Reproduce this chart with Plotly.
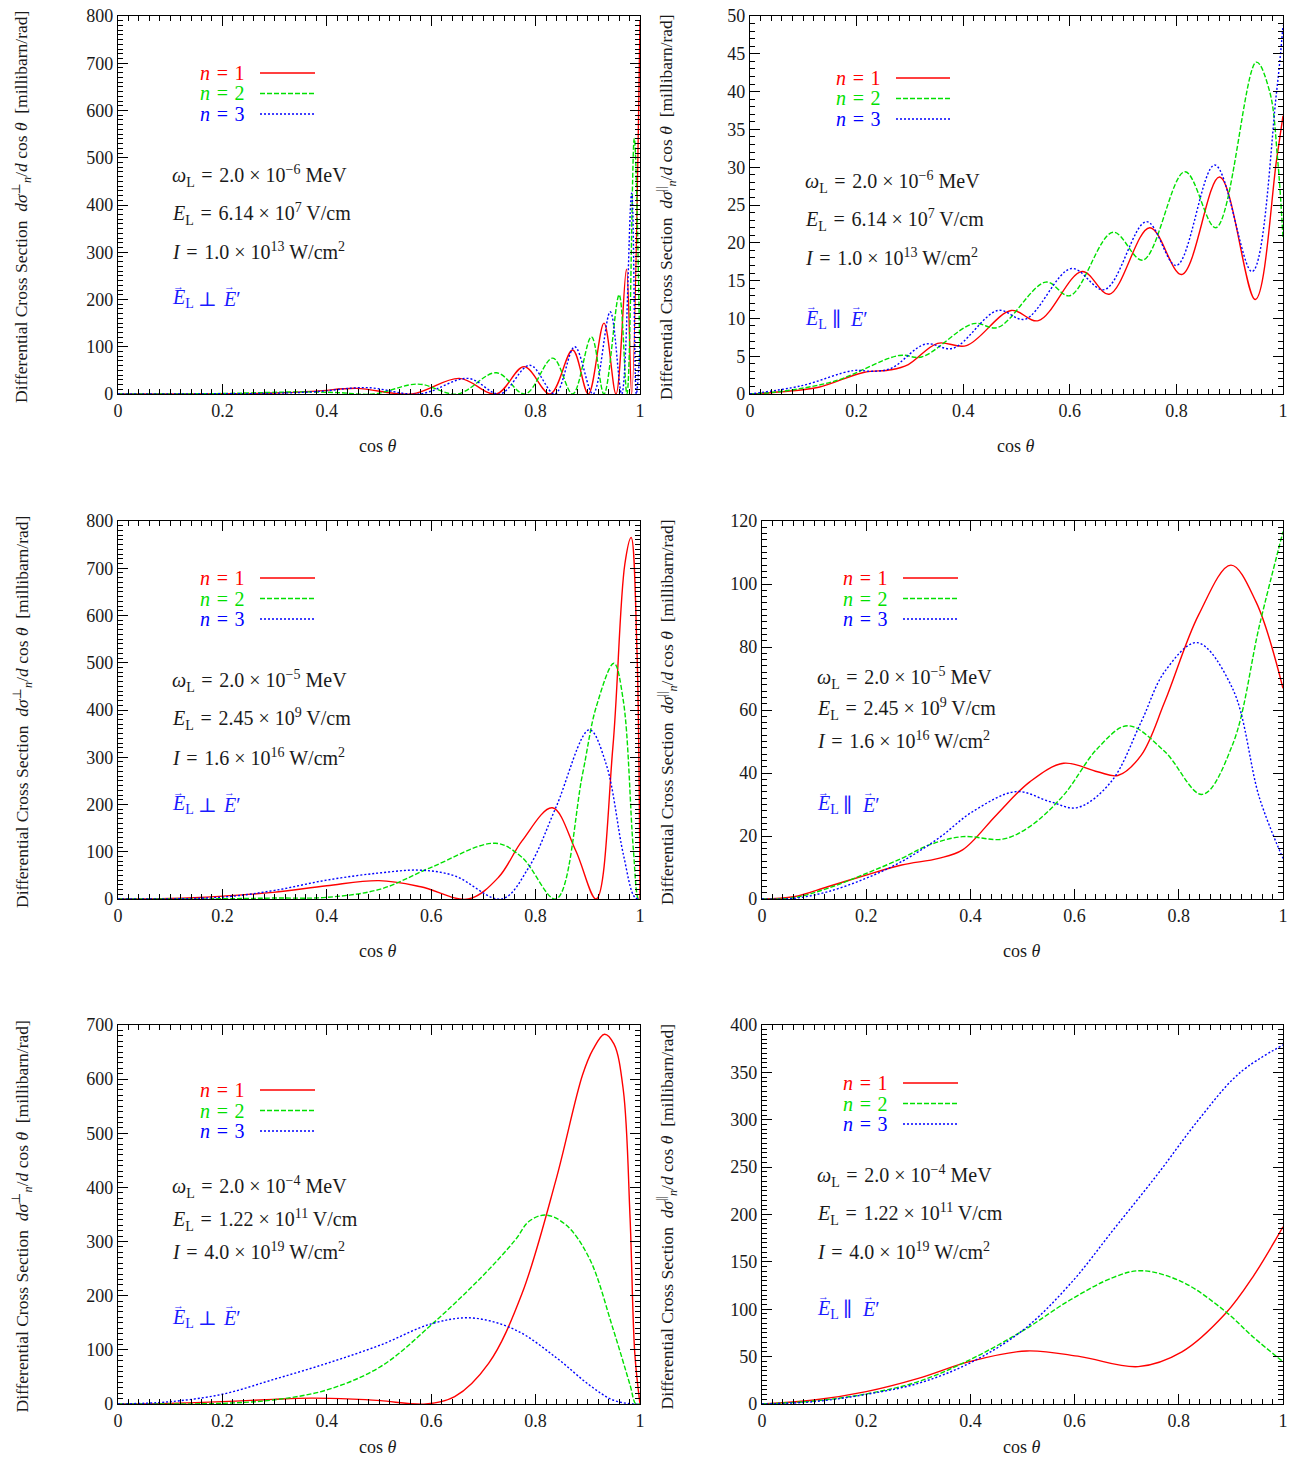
import plotly.graph_objects as go

# window is 1297x1465; the page body has an 8px margin, so the figure is 16px smaller
WIN_W, WIN_H = 1297, 1465
OFF = 8
FW, FH = WIN_W - 2 * OFF, WIN_H - 2 * OFF

# ---------------- data ----------------
# Panel A: E_L perp E', omega_L = 2.0e-6 MeV
a_x1 = [0, 0.1, 0.2, 0.3, 0.38, 0.457, 0.563, 0.654, 0.725, 0.778, 0.828, 0.871, 0.901, 0.931, 0.954, 0.974, 0.984, 1.0]
a_y1 = [0, 0.1, 0.5, 2, 6, 12, 0, 33, 0, 58, 0, 93, 0, 150, 0, 264, 0, 790]
a_x2 = [0, 0.1, 0.2, 0.28, 0.35, 0.42, 0.49, 0.575, 0.65, 0.725, 0.78, 0.833, 0.871, 0.907, 0.931, 0.960, 0.975, 0.989, 1.0]
a_y2 = [0, 0.2, 1, 3, 4.5, 3, 0, 21, 0, 45, 0, 76, 0, 121, 0, 210, 0, 541, 60]
a_x3 = [0, 0.1, 0.2, 0.3, 0.38, 0.476, 0.578, 0.671, 0.732, 0.789, 0.837, 0.875, 0.91, 0.943, 0.965, 0.984, 0.993, 1.0]
a_y3 = [0, 0.1, 0.5, 1.5, 5, 13.5, 0, 33, 0, 61, 0, 100, 0, 174, 0, 425, 0, 100]

# Panel B: E_L parallel E', omega_L = 2.0e-6 MeV
b_x1 = [0, 0.06, 0.129, 0.213, 0.265, 0.297, 0.352, 0.406, 0.49, 0.541, 0.623, 0.674, 0.75, 0.81, 0.881, 0.948, 0.988, 1.0]
b_y1 = [0, 0.3, 0.9, 2.85, 3.2, 3.9, 6.7, 6.4, 11.05, 9.7, 16.2, 13.2, 22.0, 15.8, 28.7, 12.5, 31, 36.8]
b_x2 = [0, 0.065, 0.161, 0.28, 0.322, 0.419, 0.465, 0.555, 0.6, 0.681, 0.737, 0.816, 0.874, 0.95, 0.975, 0.99, 1.0]
b_y2 = [0, 0.4, 1.75, 5.1, 4.9, 9.3, 8.8, 14.8, 13.0, 21.4, 17.7, 29.4, 22.0, 43.9, 40, 31, 20.6]
b_x3 = [0, 0.097, 0.194, 0.23, 0.265, 0.329, 0.381, 0.465, 0.516, 0.603, 0.665, 0.744, 0.8, 0.872, 0.942, 0.988, 1.0]
b_y3 = [0, 1.1, 3.1, 3.0, 3.4, 6.6, 6.05, 11.05, 9.9, 16.6, 13.8, 22.8, 17.0, 30.3, 16.2, 40, 48.7]

# Panel C: E_L perp E', omega_L = 2.0e-5 MeV
c_x1 = [0, 0.1, 0.194, 0.297, 0.4, 0.5, 0.58, 0.671, 0.729, 0.774, 0.832, 0.877, 0.916, 0.948, 0.971, 0.983, 0.994, 1.0]
c_y1 = [0, 1, 5.6, 14, 28, 38.8, 26, 0, 46, 123, 193, 102, 0, 321, 709, 765, 533, 0]
c_x2 = [0, 0.2, 0.297, 0.4, 0.503, 0.6, 0.723, 0.774, 0.839, 0.89, 0.916, 0.95, 0.968, 0.987, 0.997, 1.0]
c_y2 = [0, 0.5, 2, 3.5, 21, 67, 118, 88, 0, 265, 406, 499, 420, 109, 0, 0]
c_x3 = [0, 0.194, 0.297, 0.4, 0.5, 0.58, 0.645, 0.735, 0.787, 0.839, 0.903, 0.935, 0.968, 0.99, 1.0]
c_y3 = [0, 3.5, 17.6, 40, 55, 61, 49, 0, 67, 194, 358, 286, 95, 3.5, 0]

# Panel D: E_L parallel E', omega_L = 2.0e-5 MeV
d_x1 = [0, 0.061, 0.126, 0.2, 0.268, 0.339, 0.385, 0.45, 0.514, 0.579, 0.644, 0.683, 0.728, 0.773, 0.838, 0.9, 0.948, 1.0]
d_y1 = [0, 0.7, 3.9, 7.6, 10.8, 12.9, 15.6, 26.7, 37.2, 43.1, 40.4, 39.2, 45.7, 62.6, 90.2, 106, 94.4, 66.9]
d_x2 = [0, 0.061, 0.126, 0.2, 0.268, 0.32, 0.385, 0.462, 0.514, 0.579, 0.644, 0.702, 0.773, 0.845, 0.903, 0.955, 1.0]
d_y2 = [0, 0.4, 3.4, 8.1, 12.9, 17.1, 19.8, 19.0, 23, 33, 47.8, 55, 46.8, 33.2, 48.9, 87, 116.6]
d_x3 = [0, 0.061, 0.126, 0.2, 0.268, 0.339, 0.404, 0.488, 0.553, 0.605, 0.67, 0.728, 0.773, 0.835, 0.903, 0.955, 1.0]
d_y3 = [0, 0.2, 2.3, 6.6, 11.9, 19.3, 27.7, 34.1, 30.9, 29.0, 37.2, 56.3, 72.2, 81.4, 66.9, 32, 12.9]

# Panel E: E_L perp E', omega_L = 2.0e-4 MeV
e_x1 = [0, 0.097, 0.2, 0.297, 0.37, 0.45, 0.503, 0.59, 0.645, 0.71, 0.774, 0.839, 0.89, 0.91, 0.932, 0.95, 0.968, 0.981, 0.99, 1.0]
e_y1 = [0, 1.2, 4.3, 8.6, 10.8, 9, 6.2, 0, 13.5, 75, 204, 414, 608, 655, 683, 665, 580, 343, 94, 0]
e_x2 = [0, 0.1, 0.2, 0.297, 0.4, 0.503, 0.6, 0.697, 0.761, 0.787, 0.819, 0.858, 0.903, 0.948, 0.981, 0.992, 1.0]
e_y2 = [0, 0.2, 1.2, 7.4, 26, 69, 146, 235, 303, 337, 349, 331, 269, 140, 35, 0, 0]
e_x3 = [0, 0.097, 0.2, 0.297, 0.4, 0.503, 0.6, 0.677, 0.761, 0.839, 0.903, 0.948, 0.987, 1.0]
e_y3 = [0, 4, 18, 45, 75, 109, 148, 159, 137, 86, 35, 7.4, 0, 0]

# Panel F: E_L parallel E', omega_L = 2.0e-4 MeV
f_x1 = [0, 0.1, 0.2, 0.3, 0.398, 0.508, 0.611, 0.722, 0.806, 0.89, 0.942, 1.0]
f_y1 = [0, 4.2, 13, 27, 44.7, 56, 50, 39.4, 55, 95.7, 134, 187]
f_x2 = [0, 0.1, 0.2, 0.3, 0.398, 0.501, 0.592, 0.676, 0.728, 0.806, 0.89, 0.942, 1.0]
f_y2 = [0, 3.2, 10.6, 23.6, 46.4, 77.4, 110, 134, 140.7, 129, 97.4, 71, 44.7]
f_x3 = [0, 0.1, 0.2, 0.3, 0.398, 0.501, 0.592, 0.676, 0.76, 0.838, 0.916, 1.0]
f_y3 = [0, 2.5, 10.2, 21.8, 43, 78, 127, 185, 243, 300, 349, 379]

series_labels = ["1", "2", "3"]
x_tick_vals = [0, 0.2, 0.4, 0.6, 0.8, 1.0]
x_tick_text = ["0", "0.2", "0.4", "0.6", "0.8", "1"]

omega_txt = ["2.0 × 10<sup>−6</sup>", "2.0 × 10<sup>−5</sup>", "2.0 × 10<sup>−4</sup>"]
field_txt = ["6.14 × 10<sup>7</sup>", "2.45 × 10<sup>9</sup>", "1.22 × 10<sup>11</sup>"]
inten_txt = ["1.0 × 10<sup>13</sup>", "1.6 × 10<sup>16</sup>", "4.0 × 10<sup>19</sup>"]

# ---------------- styling / layout ----------------
COLORS = ["#ff0000", "#00e000", "#0000ff"]
DASHES = ["solid", "5px,2px", "2px,2px"]
FONT = "Liberation Serif, DejaVu Serif, serif"
TXT = "#1a1a1a"
SP = "\u2004"

def px(x):
    return (x - OFF) / FW

def py(y):
    return 1 - (y - OFF) / FH

# panel pixel boxes in window pixels: (left, right, top, bottom)
panels = [
    dict(xs=[a_x1, a_x2, a_x3], ys=[a_y1, a_y2, a_y3], box=(118, 640, 16, 394), ymax=800, dt=100, mdt=10,
         row=0, perp=True, leg=(247, 260, 315, 73), par=(170, 176, 214, 251, 299)),
    dict(xs=[b_x1, b_x2, b_x3], ys=[b_y1, b_y2, b_y3], box=(750, 1283, 16, 394), ymax=50, dt=5, mdt=1,
         row=0, perp=False, leg=(883, 896, 950, 78), par=(803, 182, 220, 257, 319)),
    dict(xs=[c_x1, c_x2, c_x3], ys=[c_y1, c_y2, c_y3], box=(118, 640, 521, 899), ymax=800, dt=100, mdt=10,
         row=1, perp=True, leg=(247, 260, 315, 578), par=(170, 681, 719, 757, 805)),
    dict(xs=[d_x1, d_x2, d_x3], ys=[d_y1, d_y2, d_y3], box=(762, 1283, 521, 899), ymax=120, dt=20, mdt=2,
         row=1, perp=False, leg=(890, 903, 958, 578), par=(815, 678, 709, 740, 805)),
    dict(xs=[e_x1, e_x2, e_x3], ys=[e_y1, e_y2, e_y3], box=(118, 640, 1025, 1404), ymax=700, dt=100, mdt=10,
         row=2, perp=True, leg=(247, 260, 315, 1090), par=(170, 1187, 1220, 1251, 1318)),
    dict(xs=[f_x1, f_x2, f_x3], ys=[f_y1, f_y2, f_y3], box=(762, 1283, 1025, 1404), ymax=400, dt=50, mdt=5,
         row=2, perp=False, leg=(890, 903, 958, 1083), par=(815, 1176, 1214, 1251, 1309)),
]

fig = go.Figure()
annotations = []
shapes = []

def ann(x, y, text, size, color, xanchor="left", angle=0):
    annotations.append(dict(x=px(x), y=py(y), xref="paper", yref="paper", xanchor=xanchor,
                            yanchor="middle", showarrow=False, text=text, textangle=angle,
                            font=dict(family=FONT, size=size, color=color)))

for i, p in enumerate(panels):
    k = i + 1
    xa = "x" if k == 1 else f"x{k}"
    ya = "y" if k == 1 else f"y{k}"
    for j in range(3):
        fig.add_trace(go.Scatter(
            x=p["xs"][j], y=p["ys"][j], mode="lines", xaxis=xa, yaxis=ya,
            line=dict(color=COLORS[j], dash=DASHES[j], width=1.4, shape="spline", smoothing=1.0),
            showlegend=False, name="n = " + series_labels[j]))

    l, r, t, b = p["box"]
    axis_common = dict(showline=True, linecolor="black", linewidth=1.3, mirror="ticks",
                       ticks="inside", ticklen=10, tickwidth=1, tickcolor="black",
                       showgrid=False, zeroline=False, automargin=False, ticklabeloverflow="allow",
                       tickfont=dict(family=FONT, size=18, color=TXT))
    fig.layout[f"xaxis{'' if k == 1 else k}"] = dict(
        domain=[px(l), px(r)], anchor=ya, range=[0, 1], tickmode="array", tickvals=x_tick_vals,
        ticktext=x_tick_text,
        minor=dict(ticks="inside", ticklen=5, dtick=0.02, tick0=0, tickcolor="black", showgrid=False),
        **axis_common)
    fig.layout[f"yaxis{'' if k == 1 else k}"] = dict(
        domain=[py(b), py(t)], anchor=xa, range=[0, p["ymax"]], dtick=p["dt"], tick0=0,
        minor=dict(ticks="inside", ticklen=5, dtick=p["mdt"], tick0=0, tickcolor="black", showgrid=False),
        **axis_common)

    # legend (text left, line sample right)
    te, ls, le, ly = p["leg"]
    for j in range(3):
        yy = ly + j * 20.5
        ann(te, yy, f"<i>n</i>{SP}={SP}{series_labels[j]}", 20, COLORS[j], xanchor="right")
        shapes.append(dict(type="line", xref="paper", yref="paper", x0=px(ls), x1=px(le),
                           y0=py(yy), y1=py(yy), line=dict(color=COLORS[j], dash=DASHES[j], width=1.4)))

    # parameter texts
    row = p["row"]
    tx, y1, y2, y3, y4 = p["par"]
    ann(tx, y1, f"<i>ω</i><sub>L</sub>{SP}={SP}{omega_txt[row]} MeV", 20, TXT)
    ann(tx, y2, f"<i>E</i><sub>L</sub>{SP}={SP}{field_txt[row]} V/cm", 20, TXT)
    ann(tx, y3, f"<i>I</i>{SP}={SP}{inten_txt[row]} W/cm<sup>2</sup>", 20, TXT)

    # field orientation label with vector arrows
    blue = "#1a1aff"
    ann(tx, y4, "<i>E</i><sub>L</sub>", 20, blue)
    if p["perp"]:
        ann(tx + 37, y4, "⊥", 20, blue, xanchor="center")
        ann(tx + 51, y4, "<i>E</i>′", 20, blue)
        arrows_x = (tx + 8, tx + 59)
    else:
        ann(tx + 33, y4, "∥", 20, blue, xanchor="center")
        ann(tx + 45, y4, "<i>E</i>′", 20, blue)
        arrows_x = (tx + 8, tx + 53)
    for ax_ in arrows_x:
        ann(ax_, y4 - 13, "→", 11, blue, xanchor="center")

    # x-axis title (bottom row kept inside the page)
    ann((l + r) / 2 - 1, min(b + 52, 1447), "cos <i>θ</i>", 18, TXT, xanchor="center")
    # y-axis title
    sym = "⊥" if p["perp"] else "||"
    ytitle_x = 22 if l < 300 else 667
    ann(ytitle_x, (t + b) / 2 + 2,
        f"Differential Cross Section  <i>dσ</i><sup>{sym}</sup><sub><i>n</i></sub>/<i>d</i> cos <i>θ</i>  [millibarn/rad]",
        17.5, TXT, xanchor="center", angle=-90)

fig.update_layout(
    width=FW, height=FH,
    margin=dict(l=0, r=0, t=0, b=0, autoexpand=False),
    paper_bgcolor="white", plot_bgcolor="white",
    font=dict(family=FONT, size=18, color=TXT),
    annotations=annotations, shapes=shapes,
    showlegend=False,
)

fig.write_html("out.html")
